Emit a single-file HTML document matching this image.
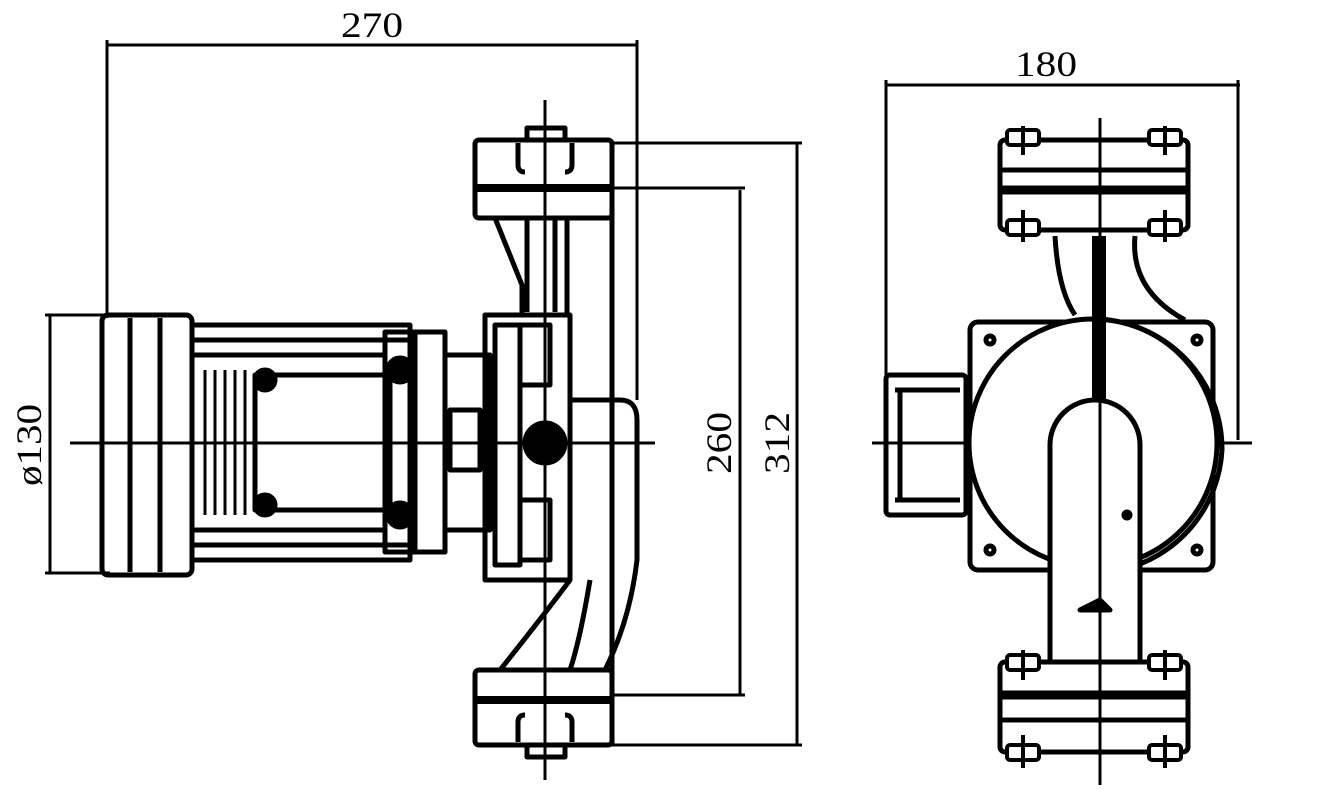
<!DOCTYPE html>
<html><head><style>html,body{margin:0;padding:0;background:#fff}svg{display:block}</style></head>
<body>
<svg width="1331" height="811" viewBox="0 0 1331 811" xmlns="http://www.w3.org/2000/svg" fill="none" stroke="#000" stroke-width="5" stroke-linejoin="round">
<g stroke-width="3">
<line x1="107" y1="45" x2="637" y2="45"/>
<line x1="107" y1="40" x2="107" y2="318"/>
<line x1="637" y1="40" x2="637" y2="400"/>
<line x1="886" y1="85" x2="1240" y2="85"/>
<line x1="886" y1="80" x2="886" y2="400"/>
<line x1="1238" y1="80" x2="1238" y2="440"/>
<line x1="797" y1="143" x2="797" y2="745"/>
<line x1="612" y1="143" x2="802" y2="143"/>
<line x1="612" y1="745" x2="802" y2="745"/>
<line x1="740" y1="190" x2="740" y2="695"/>
<line x1="612" y1="188" x2="745" y2="188"/>
<line x1="612" y1="695" x2="745" y2="695"/>
<line x1="50" y1="315" x2="50" y2="573"/>
<line x1="45" y1="315" x2="110" y2="315"/>
<line x1="45" y1="573" x2="110" y2="573"/>
</g>
<g fill="#000" stroke="none" font-family="Liberation Serif, serif" font-size="36">
<text x="372" y="37" text-anchor="middle" textLength="62" lengthAdjust="spacingAndGlyphs">270</text>
<text x="1046" y="76" text-anchor="middle" textLength="62" lengthAdjust="spacingAndGlyphs">180</text>
<text transform="translate(789,443) rotate(-90)" text-anchor="middle" textLength="62" lengthAdjust="spacingAndGlyphs">312</text>
<text transform="translate(731,443) rotate(-90)" text-anchor="middle" textLength="62" lengthAdjust="spacingAndGlyphs">260</text>
<text transform="translate(41,445) rotate(-90)" text-anchor="middle" textLength="82" lengthAdjust="spacingAndGlyphs">ø130</text>
</g>
<g stroke-width="3">
<line x1="70" y1="443" x2="655" y2="443"/>
<line x1="545" y1="100" x2="545" y2="780"/>
<line x1="872" y1="443" x2="1252" y2="443"/>
</g>
<!-- LEFT VIEW -->
<rect x="102" y="315" width="90" height="260" rx="6"/>
<line x1="130" y1="318" x2="130" y2="572"/>
<line x1="160" y1="318" x2="160" y2="572"/>
<rect x="192" y="325" width="218" height="235"/>
<line x1="192" y1="340" x2="410" y2="340"/>
<line x1="192" y1="545" x2="410" y2="545"/>
<line x1="192" y1="355" x2="385" y2="355"/>
<line x1="192" y1="530" x2="385" y2="530"/>
<g stroke-width="3">
<line x1="205" y1="370" x2="205" y2="515"/><line x1="215" y1="370" x2="215" y2="515"/><line x1="225" y1="370" x2="225" y2="515"/><line x1="235" y1="370" x2="235" y2="515"/><line x1="245" y1="370" x2="245" y2="515"/>
</g>
<rect x="255" y="375" width="135" height="135"/>
<rect x="385" y="332" width="60" height="220"/>
<line x1="415" y1="332" x2="415" y2="552"/>
<circle cx="400" cy="370" r="12" fill="#000"/><circle cx="400" cy="515" r="12" fill="#000"/>
<circle cx="265" cy="380" r="10" fill="#000"/><circle cx="265" cy="505" r="10" fill="#000"/>
<rect x="445" y="355" width="45" height="175"/>
<rect x="450" y="410" width="30" height="60"/>
<rect x="485" y="315" width="85" height="265"/>
<rect x="495" y="325" width="25" height="240"/>
<rect x="520" y="325" width="30" height="60"/><rect x="520" y="500" width="30" height="60"/>
<circle cx="545" cy="443" r="20" fill="#000"/>
<rect x="475" y="140" width="137" height="78" rx="4"/>
<line x1="475" y1="188" x2="612" y2="188" stroke-width="8"/>
<path d="M518 143 V165 Q518 172 525 172 M572 143 V165 Q572 172 565 172"/>
<rect x="475" y="670" width="137" height="75" rx="4"/>
<line x1="475" y1="700" x2="612" y2="700" stroke-width="8"/>
<path d="M518 742 V722 Q518 715 525 715 M572 742 V722 Q572 715 565 715"/>
<rect x="527" y="128" width="38" height="12"/><rect x="527" y="745" width="38" height="12"/>
<path d="M495 218 L522 285 L522 315 M567 218 L567 315"/>
<path d="M527 218 V312 M555 218 V312"/>
<path d="M612 143 V745"/>
<path d="M570 400 H620 Q637 400 637 420 V560 Q630 620 605 670"/>
<path d="M570 580 Q540 620 500 670 M590 580 Q580 640 570 670"/>
<!-- RIGHT VIEW -->
<rect x="970" y="322" width="243" height="248" rx="8"/>
<circle cx="1093" cy="443" r="124" fill="#fff"/>
<path d="M1093 319 A130 130 0 0 1 1222 450 A130 130 0 0 1 1120 570" />
<rect x="886" y="375" width="80" height="140" rx="4"/>
<line x1="895" y1="390" x2="960" y2="390"/><line x1="895" y1="500" x2="960" y2="500"/>
<line x1="900" y1="390" x2="900" y2="500"/>
<circle cx="990" cy="340" r="4"/><circle cx="1197" cy="340" r="4"/><circle cx="990" cy="550" r="4"/><circle cx="1197" cy="550" r="4"/>
<path d="M1050 660 V445 A45 45 0 0 1 1140 445 V660" fill="#fff"/>
<rect x="1000" y="140" width="188" height="90" rx="5" fill="#fff"/>
<line x1="1000" y1="170" x2="1188" y2="170"/>
<line x1="1000" y1="190" x2="1188" y2="190" stroke-width="9"/>
<g stroke-width="4">
<rect x="1007" y="130" width="32" height="15" rx="3" fill="#fff"/><rect x="1149" y="130" width="32" height="15" rx="3" fill="#fff"/>
<rect x="1007" y="220" width="32" height="15" rx="3" fill="#fff"/><rect x="1149" y="220" width="32" height="15" rx="3" fill="#fff"/>
<line x1="1023" y1="126" x2="1023" y2="155"/><line x1="1165" y1="126" x2="1165" y2="155"/>
<line x1="1023" y1="210" x2="1023" y2="242"/><line x1="1165" y1="210" x2="1165" y2="242"/>
</g>
<rect x="1000" y="662" width="188" height="90" rx="5" fill="#fff"/>
<line x1="1000" y1="695" x2="1188" y2="695" stroke-width="9"/>
<line x1="1000" y1="720" x2="1188" y2="720"/>
<g stroke-width="4">
<rect x="1007" y="655" width="32" height="15" rx="3" fill="#fff"/><rect x="1149" y="655" width="32" height="15" rx="3" fill="#fff"/>
<rect x="1007" y="745" width="32" height="15" rx="3" fill="#fff"/><rect x="1149" y="745" width="32" height="15" rx="3" fill="#fff"/>
<line x1="1023" y1="650" x2="1023" y2="680"/><line x1="1165" y1="650" x2="1165" y2="680"/>
<line x1="1023" y1="735" x2="1023" y2="768"/><line x1="1165" y1="735" x2="1165" y2="768"/>
</g>
<path d="M1055 236 Q1058 290 1075 315 M1135 236 Q1130 290 1185 320"/>
<rect x="1092" y="236" width="14" height="166" fill="#000" stroke="none"/>
<line x1="1100" y1="118" x2="1100" y2="785" stroke-width="3"/>
<path d="M1080 610 L1110 610 L1100 600 Z" fill="#000"/>
<circle cx="1127" cy="515" r="3" fill="#000"/>
</svg>
</body></html>
